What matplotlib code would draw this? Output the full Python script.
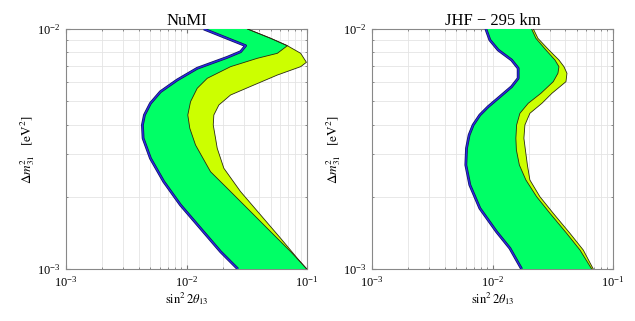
import matplotlib
matplotlib.use('Agg')
import matplotlib.pyplot as plt
from matplotlib.ticker import NullFormatter, LogLocator

plt.rcParams['font.family'] = ['Liberation Serif', 'DejaVu Serif']
plt.rcParams['mathtext.fontset'] = 'stix'

# ---------------- data ----------------
titles = ["NuMI", "JHF \u2212 295 km"]

# NuMI: left (outer) boundary
numi_left_dm2 = [0.01, 0.008519, 0.008043, 0.007622, 0.006860, 0.006131, 0.005480, 0.004902,
                 0.004381, 0.003981, 0.003504, 0.002891, 0.002311, 0.001848, 0.001477, 0.001181, 0.001]
numi_left_s2t = [0.01393, 0.03093, 0.02812, 0.02180, 0.01227, 0.008370, 0.006079, 0.005021,
                 0.004476, 0.004307, 0.004365, 0.005021, 0.006477, 0.008915, 0.01307, 0.01917, 0.02669]
# NuMI: right boundary of green region
numi_green_dm2 = [0.01, 0.009146, 0.008519, 0.007920, 0.007550, 0.006967, 0.006231, 0.005662,
                  0.004978, 0.004381, 0.003857, 0.003286, 0.002543, 0.002169, 0.001790, 0.001430,
                  0.001181, 0.001012, 0.001]
numi_green_s2t = [0.0321, 0.04993, 0.06873, 0.05675, 0.03870, 0.02321, 0.01486, 0.01227,
                  0.01080, 0.01025, 0.01065, 0.01188, 0.01583, 0.02180, 0.03196, 0.04993,
                  0.07318, 0.09754, 0.0995]
# NuMI: right boundary of yellow region
numi_yellow_dm2 = [0.01, 0.009146, 0.008519, 0.007920, 0.007264, 0.006967, 0.006430, 0.005843,
                   0.005309, 0.004823, 0.004381, 0.003981, 0.003504, 0.003184, 0.002628, 0.002100,
                   0.001679, 0.001342, 0.001108, 0.001]
numi_yellow_s2t = [0.0321, 0.04993, 0.06873, 0.08862, 0.0989, 0.08862, 0.05675, 0.03625,
                   0.02321, 0.01856, 0.01686, 0.01667, 0.01742, 0.01799, 0.02042, 0.02812,
                   0.04122, 0.06045, 0.08320, 0.0995]

# JHF: left (outer) boundary
jhf_left_dm2 = [0.01, 0.008999, 0.008176, 0.007427, 0.006860, 0.006231, 0.005749, 0.005222,
                0.004745, 0.004381, 0.003981, 0.003617, 0.003184, 0.002712, 0.002239, 0.001790,
                0.001430, 0.001220, 0.001]
jhf_left_s2t = [0.008809, 0.009506, 0.01114, 0.01440, 0.01633, 0.01633, 0.01440, 0.01151,
                0.009202, 0.007851, 0.006907, 0.006397, 0.006086, 0.006006, 0.006484, 0.007851,
                0.01080, 0.01394, 0.01744]
# JHF: right boundaries (green, yellow)
jhf_right_dm2 = [0.01, 0.009146, 0.008176, 0.007427, 0.006967, 0.006537, 0.006032, 0.005396,
                 0.004902, 0.004454, 0.003981, 0.003504, 0.003133, 0.002712, 0.002349, 0.002001,
                 0.001707, 0.001408, 0.001200, 0.001]
jhf_green_s2t = [0.02111, 0.02292, 0.02775, 0.03297, 0.03559, 0.03491, 0.03192, 0.02522,
                 0.01978, 0.01688, 0.01585, 0.01563, 0.01578, 0.01671, 0.01893, 0.02323,
                 0.02996, 0.04124, 0.05318, 0.06653]
jhf_yellow_s2t = [0.02185, 0.02381, 0.02938, 0.03559, 0.03917, 0.04148, 0.04069, 0.03113,
                  0.02570, 0.02043, 0.01857, 0.01822, 0.01875, 0.01948, 0.02043, 0.02474,
                  0.03192, 0.04393, 0.05664, 0.06860]

GREEN = '#00ff66'
YELLOW = '#ccff00'

fig = plt.figure(figsize=(6.35, 3.21), dpi=100)
ax1 = fig.add_axes([66 / 635, 52 / 321, 241 / 635, 240 / 321])
ax2 = fig.add_axes([372 / 635, 52 / 321, 241 / 635, 240 / 321])


def panel(ax, title, ld, ls, gd, gs, yd, ys):
    ax.set_xscale('log')
    ax.set_yscale('log')
    ax.set_xlim(1e-3, 1e-1)
    ax.set_ylim(1e-3, 1e-2)
    ax.set_axisbelow(True)
    ax.grid(True, which='both', color='#e4e4e4', lw=0.6)
    # yellow region
    ax.fill(list(ls) + list(ys[::-1]), list(ld) + list(yd[::-1]),
            color=YELLOW, lw=0, zorder=2)
    # green region
    ax.fill(list(ls) + list(gs[::-1]), list(ld) + list(gd[::-1]),
            color=GREEN, lw=0, zorder=3)
    ax.plot(ys, yd, color='#2a2a10', lw=0.6, zorder=4)
    ax.plot(gs, gd, color='#2a2a10', lw=0.6, zorder=4)
    ax.plot(ls, ld, color='#12125a', lw=2.0, zorder=5, solid_capstyle='butt')
    ax.plot(ls, ld, color='#2a2ae0', lw=1.0, zorder=6, solid_capstyle='butt')

    ax.set_title(title, fontsize=12, pad=3)
    ax.set_xlabel(r'$\sin^2 2\theta_{13}$', fontsize=9, labelpad=1)
    ax.set_ylabel(r'$\Delta m^2_{31}\quad[\mathrm{eV}^2]$', fontsize=9.5, labelpad=0)
    ax.yaxis.set_major_locator(LogLocator(base=10, numticks=5))
    ax.yaxis.set_minor_formatter(NullFormatter())
    ax.xaxis.set_minor_formatter(NullFormatter())
    ax.tick_params(which='both', direction='in', top=True, right=True,
                   labelsize=9, color='#777777')
    ax.tick_params(which='major', length=3, pad=4)
    ax.tick_params(which='minor', length=1.5)
    for sp in ax.spines.values():
        sp.set_color('#888888')
        sp.set_linewidth(0.8)


panel(ax1, titles[0], numi_left_dm2, numi_left_s2t, numi_green_dm2, numi_green_s2t,
      numi_yellow_dm2, numi_yellow_s2t)
panel(ax2, titles[1], jhf_left_dm2, jhf_left_s2t, jhf_right_dm2, jhf_green_s2t,
      jhf_right_dm2, jhf_yellow_s2t)

fig.savefig('out.png', dpi=100)
